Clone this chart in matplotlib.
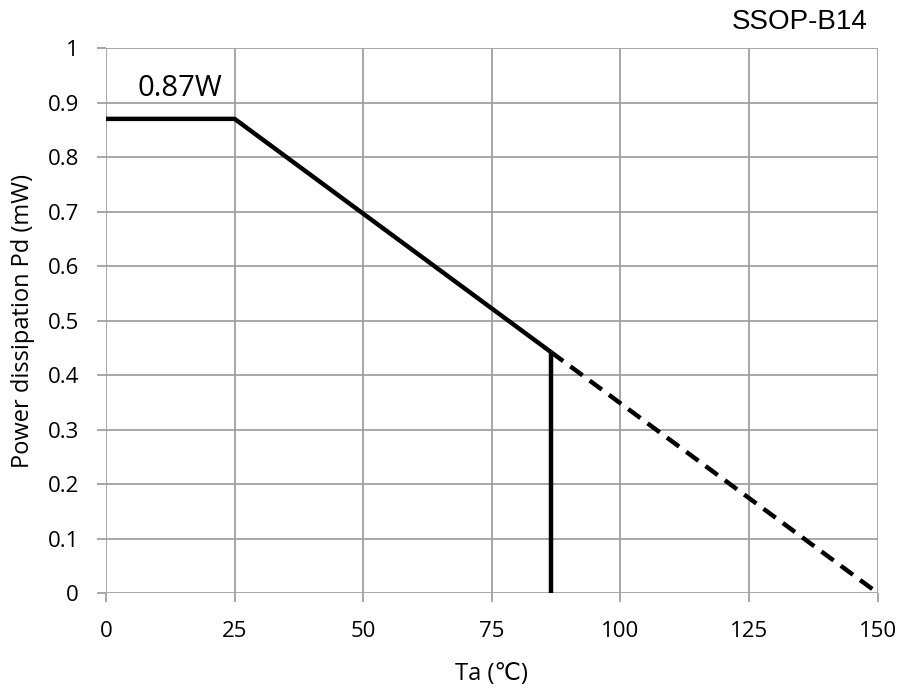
import matplotlib.pyplot as plt

# derating curve for SSOP-B14
ta_solid = [0, 25, 86.5]
pd_solid = [0.87, 0.87, 0.442]
ta_drop = [86.5, 86.5]
pd_drop = [0.442, 0.0]
ta_dash = [86.5, 149]
pd_dash = [0.442, 0.007]

x_ticks = [0, 25, 50, 75, 100, 125, 150]
y_ticks = [0, 0.1, 0.2, 0.3, 0.4, 0.5, 0.6, 0.7, 0.8, 0.9, 1]
y_labels = ['0', '0.1', '0.2', '0.3', '0.4', '0.5', '0.6', '0.7', '0.8', '0.9', '1']

font = ['Open Sans', 'DejaVu Sans']
grid_c = '#a0a0a0'

fig = plt.figure(figsize=(9.03, 6.89), dpi=100)
ax = fig.add_axes([0.1174, 0.1393, 0.8546, 0.791])

ax.plot(ta_solid, pd_solid, color='black', lw=3.2, solid_capstyle='butt')
ax.plot(ta_drop, pd_drop, color='black', lw=3.2, solid_capstyle='butt')
ax.plot(ta_dash, pd_dash, color='black', lw=3.2, dashes=(3.4, 2))

ax.set_xlim(0, 150)
ax.set_ylim(0, 1)
ax.set_xticks(x_ticks)
ax.set_yticks(y_ticks)
ax.set_yticklabels(y_labels)
ax.grid(True, color=grid_c, lw=1.3)
ax.set_axisbelow(True)
for s in ax.spines.values():
    s.set_visible(False)
ax.tick_params(axis='both', color=grid_c, width=1.3, length=6.5, labelsize=16)
ax.tick_params(axis='y', pad=13)
ax.tick_params(axis='x', pad=14)
for lab in ax.get_xticklabels() + ax.get_yticklabels():
    lab.set_family(font)

ax.set_xlabel('Ta (℃)', fontsize=17, family=font, labelpad=14)
ax.set_ylabel('Power dissipation Pd (mW)', fontsize=17, family=font, labelpad=9)

ax.text(14.4, 0.925, '0.87W', fontsize=21, family=font, ha='center', va='center')
fig.text(0.961, 0.968, 'SSOP-B14', fontsize=20, family=['Liberation Sans', 'DejaVu Sans'],
         ha='right', va='center')

fig.savefig('out.png', dpi=100)
